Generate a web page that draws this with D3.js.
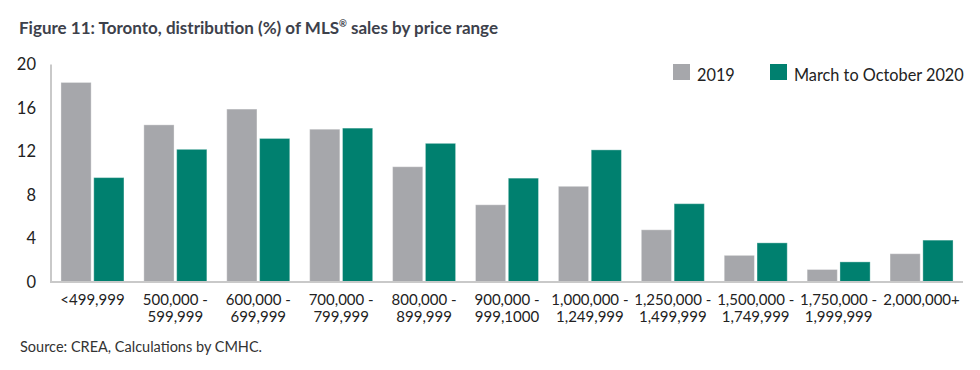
<!DOCTYPE html>
<html>
<head>
<meta charset="utf-8">
<script src="https://cdn.jsdelivr.net/npm/d3@7"></script>
<style>
  html, body { margin: 0; padding: 0; background: #fff; }
  svg { display: block; font-family: Lato, "Open Sans", sans-serif; }
</style>
</head>
<body>
<div id="chart"></div>
<script>
// --- data ---
const categories = [
  "<499,999", "500,000 -\n599,999", "600,000 -\n699,999", "700,000 -\n799,999",
  "800,000 -\n899,999", "900,000 -\n999,1000", "1,000,000 -\n1,249,999",
  "1,250,000 -\n1,499,999", "1,500,000 -\n1,749,999", "1,750,000 -\n1,999,999", "2,000,000+"
];
const seriesNames = ["2019", "March to October 2020"];
const values2019 = [18.35, 14.45, 15.9, 14.05, 10.6, 7.1, 8.8, 4.8, 2.45, 1.15, 2.6];
const values2020 = [9.6, 12.2, 13.2, 14.15, 12.75, 9.55, 12.15, 7.2, 3.6, 1.85, 3.85];
const yTicks = [0, 4, 8, 12, 16, 20];
const colors = ["#a6a7ab", "#00806f"];

const W = 980, H = 370;
const plotL = 51, plotR = 963, plotT = 64.5, plotB = 282;

const svg = d3.select("#chart").append("svg")
  .attr("width", W).attr("height", H);

// title
const title = svg.append("text")
  .attr("x", 19).attr("y", 34)
  .attr("fill", "#3d414b")
  .attr("font-size", 17).attr("font-weight", "bold");
title.append("tspan").text("Figure 11: Toronto, distribution (%) of MLS");
title.append("tspan").text("®").attr("font-size", 9.5).attr("dy", -7);
title.append("tspan").text(" sales by price range").attr("dy", 7);

// scales
const x0 = d3.scaleBand().domain(categories).range([plotL, plotR])
  .paddingInner(0.24).paddingOuter(0.12);
const x1 = d3.scaleBand().domain(seriesNames).range([0, x0.bandwidth()])
  .paddingInner(0.08);
const y = d3.scaleLinear().domain([0, 20]).range([plotB, plotT]);

const rows = categories.map((c, i) => ({ cat: c, vals: [values2019[i], values2020[i]] }));

// bars
const grp = svg.append("g").selectAll("g")
  .data(rows).enter().append("g")
  .attr("transform", d => `translate(${x0(d.cat)},0)`);

grp.selectAll("rect")
  .data(d => d.vals.map((v, k) => ({ key: seriesNames[k], v, k })))
  .enter().append("rect")
  .attr("x", d => x1(d.key))
  .attr("width", x1.bandwidth())
  .attr("y", d => y(d.v))
  .attr("height", d => y(0) - y(d.v))
  .attr("fill", d => colors[d.k])
  .attr("stroke", "rgba(255,255,255,0.35)")
  .attr("stroke-width", 1);

// axis lines
svg.append("path")
  .attr("d", `M${plotL},${plotT} V${plotB} H${plotR}`)
  .attr("fill", "none").attr("stroke", "#c9c9c9").attr("stroke-width", 2);

// y tick labels
svg.append("g").selectAll("text")
  .data(yTicks).enter().append("text")
  .attr("x", 36).attr("y", d => y(d)).attr("dy", "0.35em")
  .attr("text-anchor", "end")
  .attr("font-size", 16.5).attr("fill", "#222")
  .text(d => d);

// x labels
const xl = svg.append("g").selectAll("text")
  .data(categories).enter().append("text")
  .attr("x", d => x0(d) + x0.bandwidth() / 2)
  .attr("y", 305)
  .attr("text-anchor", "middle")
  .attr("font-size", 15).attr("fill", "#222");
xl.each(function(d) {
  const lines = d.split("\n");
  const t = d3.select(this);
  lines.forEach((ln, i) => {
    t.append("tspan").attr("x", x0(d) + x0.bandwidth() / 2)
      .attr("dy", i === 0 ? 0 : 17).text(ln);
  });
});

// legend
const legX = [673, 770];
const leg = svg.append("g").selectAll("g")
  .data(seriesNames).enter().append("g")
  .attr("transform", (d, i) => `translate(${legX[i]},64)`);
leg.append("rect").attr("width", 17).attr("height", 16)
  .attr("fill", (d, i) => colors[i]);
leg.append("text").attr("x", 24).attr("y", 16.5)
  .attr("font-size", 16.3).attr("fill", "#222")
  .text(d => d);

// source
svg.append("text")
  .attr("x", 20).attr("y", 352)
  .attr("font-size", 14.5).attr("fill", "#333")
  .text("Source: CREA, Calculations by CMHC.");
</script>
</body>
</html>
